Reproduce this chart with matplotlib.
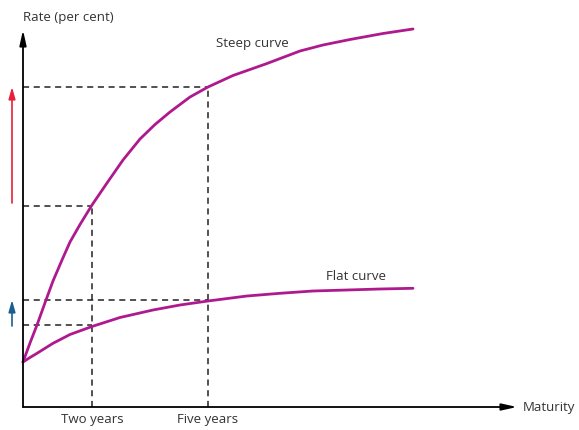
import matplotlib
matplotlib.use("Agg")
import matplotlib.pyplot as plt

plt.rcParams['font.family'] = ['Open Sans', 'DejaVu Sans']

# Maturity (abstract units) and rate (per cent, abstract units)
steep_x = [0, 0.7, 1.4, 2.3, 3.0, 3.9, 4.7, 5.7, 6.9, 8.4, 10.0, 11.7, 13.2, 14.7, 16.7,
           18.5, 21.0, 22.7, 24.4, 27.7, 30.0, 32.7, 36.0, 39.0]
steep_y = [4.5, 6.4, 8.2, 10.7, 12.6, 14.7, 16.5, 18.25, 20.2, 22.4, 24.7, 26.8, 28.25, 29.5, 31.0,
           32.0, 33.15, 33.75, 34.35, 35.6, 36.2, 36.75, 37.35, 37.8]
flat_x = [0, 0.7, 1.4, 3.0, 4.7, 6.9, 9.7, 13.0, 15.7, 18.5, 22.4, 25.7, 29.0, 32.4, 35.7, 39.0]
flat_y = [4.5, 4.95, 5.37, 6.37, 7.25, 8.05, 8.95, 9.7, 10.2, 10.6, 11.1, 11.37, 11.6, 11.7, 11.8, 11.87]

two_years = 6.9
five_years = 18.5
steep_two, steep_five = 20.1, 32.0
flat_two, flat_five = 8.2, 10.7

x_tick_labels = ["Two years", "Five years"]

curve_color = "#ae1a8e"
text_color = "#333333"

fig = plt.figure(figsize=(5.79, 4.30), dpi=100)
ax = fig.add_axes([0, 0, 1, 1])
ax.set_xlim(-2.3, 55.6)
ax.set_ylim(-2.3, 40.7)
ax.axis('off')

# axes with arrows
arrow_kw = dict(arrowstyle='-|>,head_length=0.9,head_width=0.2', color='black',
                lw=1.3, shrinkA=0, shrinkB=0)
ax.annotate('', xy=(49.4, 0), xytext=(0, 0), arrowprops=arrow_kw)
ax.annotate('', xy=(0, 37.7), xytext=(0, 0), arrowprops=arrow_kw)

# dashed guide lines
dash = dict(color='#222222', lw=1.1, linestyle=(0, (4, 3)))
ax.plot([0, five_years], [steep_five, steep_five], **dash)
ax.plot([0, two_years], [steep_two, steep_two], **dash)
ax.plot([0, five_years], [flat_five, flat_five], **dash)
ax.plot([0, two_years], [flat_two, flat_two], **dash)
ax.plot([two_years, two_years], [0, steep_two], **dash)
ax.plot([five_years, five_years], [0, steep_five], **dash)

# curves
ax.plot(steep_x, steep_y, color=curve_color, lw=2.0, solid_capstyle='round', solid_joinstyle='round')
ax.plot(flat_x, flat_y, color=curve_color, lw=2.0, solid_capstyle='round', solid_joinstyle='round')

# coloured arrows
ax.annotate('', xy=(-1.1, steep_five), xytext=(-1.1, steep_two + 0.3),
            arrowprops=dict(arrowstyle='-|>,head_length=0.7,head_width=0.2',
                            color='#e8203a', lw=1.2, shrinkA=0, shrinkB=0))
ax.annotate('', xy=(-1.1, flat_five), xytext=(-1.1, flat_two - 0.1),
            arrowprops=dict(arrowstyle='-|>,head_length=0.7,head_width=0.2',
                            color='#1a5f8f', lw=1.2, shrinkA=0, shrinkB=0))

# texts
fs = 9.5
ax.text(0, 38.9, "Rate (per cent)", fontsize=fs, color=text_color, ha='left', va='center')
ax.text(19.3, 36.3, "Steep curve", fontsize=fs, color=text_color, ha='left', va='center')
ax.text(30.3, 13.0, "Flat curve", fontsize=fs, color=text_color, ha='left', va='center')
ax.text(two_years, -1.3, x_tick_labels[0], fontsize=fs, color=text_color, ha='center', va='center')
ax.text(five_years, -1.3, x_tick_labels[1], fontsize=fs, color=text_color, ha='center', va='center')
ax.text(50.0, 0, "Maturity", fontsize=fs, color=text_color, ha='left', va='center')

fig.savefig("out.png", dpi=100)
